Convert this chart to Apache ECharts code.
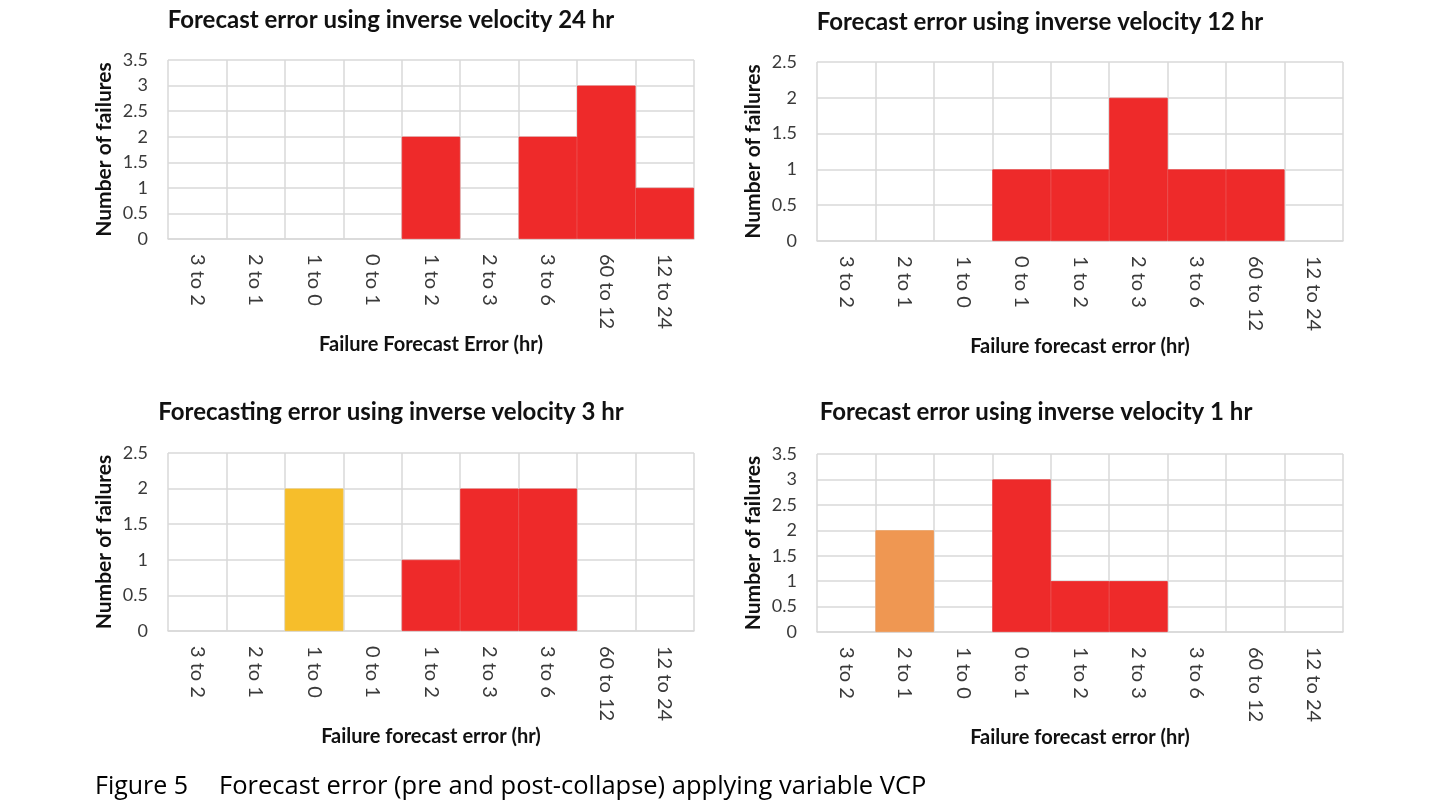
<!DOCTYPE html>
<html>
<head>
<meta charset="UTF-8">
<title>Forecast error</title>
<script src="https://cdn.jsdelivr.net/npm/echarts@6/dist/echarts.min.js"></script>
<style>
  html, body { margin: 0; padding: 0; background: #fff; }
  #main { width: 1440px; height: 810px; }
</style>
</head>
<body>
<div id="main"></div>
<script type="text/javascript">
    // categories shared by all four panels
    var categories = ['3 to 2', '2 to 1', '1 to 0', '0 to 1', '1 to 2', '2 to 3', '3 to 6', '60 to 12', '12 to 24'];

    // panel data (number of failures)
    var err24 = [0, 0, 0, 0, 2, 0, 2, 3, 1];
    var err12 = [0, 0, 0, 1, 1, 2, 1, 1, 0];
    var err3Pre = [0, 0, 2, 0, 0, 0, 0, 0, 0];
    var err3Post = [0, 0, 0, 0, 1, 2, 2, 0, 0];
    var err1Pre = [0, 2, 0, 0, 0, 0, 0, 0, 0];
    var err1Post = [0, 0, 0, 3, 1, 1, 0, 0, 0];

    var yMax = [3.5, 2.5, 2.5, 3.5];
    var titles = [
        'Forecast error using inverse velocity 24 hr',
        'Forecast error using inverse velocity 12 hr',
        'Forecasting error using inverse velocity 3 hr',
        'Forecast error using inverse velocity 1 hr'
    ];
    var xNames = [
        'Failure Forecast Error (hr)',
        'Failure forecast error (hr)',
        'Failure forecast error (hr)',
        'Failure forecast error (hr)'
    ];

    var RED = '#EE2A2A';
    var YELLOW = '#F6BE2B';
    var ORANGE = '#EF9752';
    var GRIDC = '#D9D9D9';
    var FONT = 'Lato';

    var grids = [
        {left: 168, top: 60, width: 526, height: 179},
        {left: 817, top: 62, width: 526, height: 179},
        {left: 168, top: 453, width: 526, height: 178},
        {left: 817, top: 454, width: 526, height: 178}
    ];
    var titlePos = [[391, 20], [1040, 22], [391, 412], [1036, 412]];

    var xAxes = [], yAxes = [], graphics = [];
    for (var i = 0; i < 4; i++) {
        xAxes.push({
            type: 'category',
            gridIndex: i,
            data: categories,
            boundaryGap: true,
            axisTick: {show: false},
            axisLine: {lineStyle: {color: GRIDC, width: 1.5}},
            splitLine: {show: true, lineStyle: {color: GRIDC, width: 1.5}},
            axisLabel: {
                rotate: -90, margin: 15, interval: 0,
                fontFamily: FONT, fontSize: 20, color: '#3a3a3a'
            },
            name: xNames[i],
            nameLocation: 'middle',
            nameGap: 96,
            nameTextStyle: {fontFamily: FONT, fontSize: 20, fontWeight: 'bold', color: '#111'}
        });
        yAxes.push({
            type: 'value',
            gridIndex: i,
            min: 0,
            max: yMax[i],
            interval: 0.5,
            axisLine: {show: false},
            axisTick: {show: false},
            splitLine: {lineStyle: {color: GRIDC, width: 1.5}},
            axisLabel: {margin: 20, fontFamily: FONT, fontSize: 18, color: '#3a3a3a'},
            name: 'Number of failures',
            nameLocation: 'middle',
            nameGap: 53,
            nameTextStyle: {fontFamily: FONT, fontSize: 21, fontWeight: 'bold', color: '#111'}
        });
        graphics.push({
            type: 'text',
            x: titlePos[i][0],
            y: titlePos[i][1],
            style: {
                text: titles[i],
                fontFamily: FONT, fontSize: 24, fontWeight: 'bold', fill: '#111',
                align: 'center', verticalAlign: 'middle'
            }
        });
    }

    // 图注
    graphics.push({
        type: 'text', x: 95, y: 787,
        style: {text: 'Figure 5', fontFamily: 'Open Sans', fontSize: 25, fill: '#000', verticalAlign: 'middle'}
    });
    graphics.push({
        type: 'text', x: 219, y: 787,
        style: {
            text: 'Forecast error (pre and post-collapse) applying variable VCP',
            fontFamily: 'Open Sans', fontSize: 25.5, fill: '#000', verticalAlign: 'middle'
        }
    });

    function bars(data, idx, color, stack) {
        return {
            type: 'bar',
            xAxisIndex: idx,
            yAxisIndex: idx,
            // zero counts are left empty so no outline is drawn for them
            data: data.map(function (v) { return v === 0 ? '-' : v; }),
            stack: stack,
            barCategoryGap: '0%',
            itemStyle: {color: color, borderColor: color, borderWidth: 0.8},
            silent: true
        };
    }

    var option = {
        animation: false,
        backgroundColor: '#fff',
        grid: grids,
        xAxis: xAxes,
        yAxis: yAxes,
        series: [
            bars(err24, 0, RED, 's0'),
            bars(err12, 1, RED, 's1'),
            bars(err3Pre, 2, YELLOW, 's2'),
            bars(err3Post, 2, RED, 's2'),
            bars(err1Pre, 3, ORANGE, 's3'),
            bars(err1Post, 3, RED, 's3')
        ],
        graphic: graphics
    };

    var myChart = echarts.init(document.getElementById('main'));
    myChart.setOption(option);
</script>
</body>
</html>
